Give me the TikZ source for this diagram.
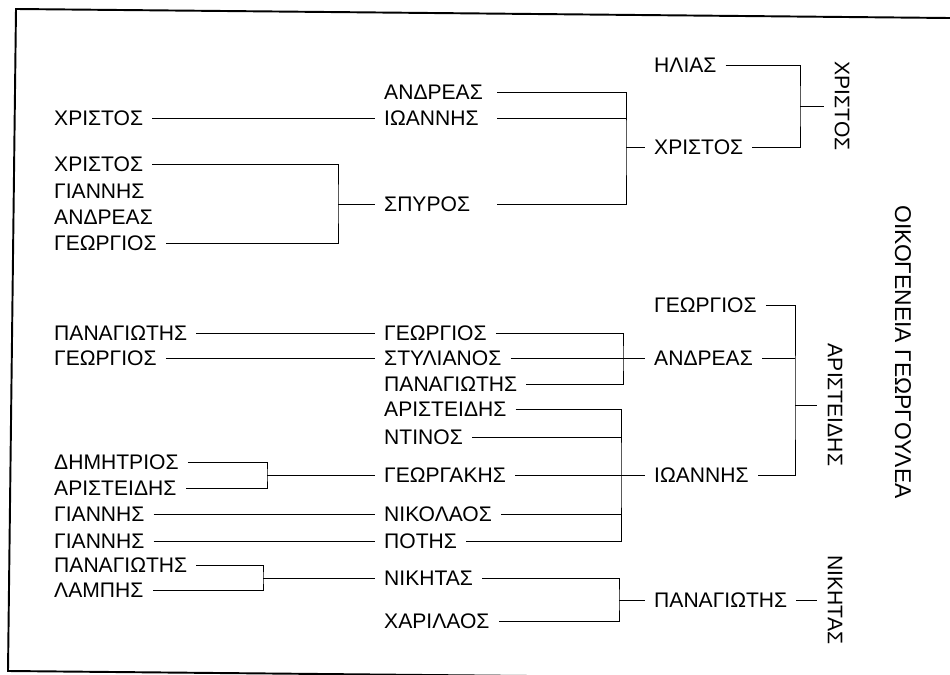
\documentclass[tikz,border=0pt]{standalone}
\usepackage{fontspec}
\setmainfont{Liberation Sans}
\usetikzlibrary{calc}

\begin{document}
\begin{tikzpicture}[x=0.02cm, y=-0.02cm, line width=0.5pt,
		every node/.style={font=\fontsize{12}{14}\selectfont, inner xsep=5pt, inner ysep=2pt},
		person/.style={anchor=west},
		branch/.style={rotate=-90, inner ysep=6pt},
		title/.style={rotate=-90, font=\fontsize{13}{15}\selectfont}]
		\useasboundingbox (0,0) rectangle (950,675);
		\clip (0,0) rectangle (950,675);
		\draw[line width=1.1pt] (990,18.4) -- (16,9) -- (8,671) -- (990,680.4);
		% first family
		\node[person] (l1) at (45,118) {ΧΡΙΣΤΟΣ};
		\node[person] (l2) at (45,164) {ΧΡΙΣΤΟΣ};
		\node[person] (l3) at (45,191) {ΓΙΑΝΝΗΣ};
		\node[person] (l4) at (45,217) {ΑΝΔΡΕΑΣ};
		\node[person] (l5) at (45,243) {ΓΕΩΡΓΙΟΣ};
		\node[person] (m1) at (375,92) {ΑΝΔΡΕΑΣ};
		\node[person] (m2) at (375,118) {ΙΩΑΝΝΗΣ};
		\node[person] (m3) at (375,204) {ΣΠΥΡΟΣ};
		\node[person] (r1) at (645,65) {ΗΛΙΑΣ};
		\node[person] (r2) at (645,147) {ΧΡΙΣΤΟΣ};
		\node[branch] (t1) at (842,106) {ΧΡΙΣΤΟΣ};
		\coordinate (j1) at (338,204);
		\coordinate (j2) at (626,147);
		\coordinate (j3) at (800,106);
		\coordinate (s2) at (497,0);
		\draw (l1.east) -- (m2.west);
		\draw (l2.east) -| (j1) |- (l5.east);
		\draw (j1) -- (m3.west);
		\draw (m1.east -| s2) -| (j2) |- (m3.east -| s2);
		\draw (m2.east -| s2) -- (m2.east -| j2);
		\draw (j2) -- (r2.west);
		\draw (r1.east) -| (j3) |- (r2.east);
		\draw (j3) -- (t1.south);
		% second family
		\node[person] (l6) at (45,333) {ΠΑΝΑΓΙΩΤΗΣ};
		\node[person] (l7) at (45,358) {ΓΕΩΡΓΙΟΣ};
		\node[person] (l8) at (45,462) {ΔΗΜΗΤΡΙΟΣ};
		\node[person] (l9) at (45,488) {ΑΡΙΣΤΕΙΔΗΣ};
		\node[person] (l10) at (45,514) {ΓΙΑΝΝΗΣ};
		\node[person] (l11) at (45,541) {ΓΙΑΝΝΗΣ};
		\node[person] (l12) at (45,565) {ΠΑΝΑΓΙΩΤΗΣ};
		\node[person] (l13) at (45,590) {ΛΑΜΠΗΣ};
		\node[person] (m4) at (375,333) {ΓΕΩΡΓΙΟΣ};
		\node[person] (m5) at (375,358) {ΣΤΥΛΙΑΝΟΣ};
		\node[person] (m6) at (375,384) {ΠΑΝΑΓΙΩΤΗΣ};
		\node[person] (m7) at (375,409) {ΑΡΙΣΤΕΙΔΗΣ};
		\node[person] (m8) at (375,437) {ΝΤΙΝΟΣ};
		\node[person] (m9) at (375,475) {ΓΕΩΡΓΑΚΗΣ};
		\node[person] (m10) at (375,514) {ΝΙΚΟΛΑΟΣ};
		\node[person] (m11) at (375,541) {ΠΟΤΗΣ};
		\node[person] (m12) at (375,578) {ΝΙΚΗΤΑΣ};
		\node[person] (m13) at (375,621) {ΧΑΡΙΛΑΟΣ};
		\node[person] (r3) at (645,305) {ΓΕΩΡΓΙΟΣ};
		\node[person] (r4) at (645,358) {ΑΝΔΡΕΑΣ};
		\node[person] (r5) at (645,475) {ΙΩΑΝΝΗΣ};
		\node[person] (r6) at (645,600) {ΠΑΝΑΓΙΩΤΗΣ};
		\node[branch] (t2) at (835,405) {ΑΡΙΣΤΕΙΔΗΣ};
		\node[branch] (t3) at (835,600) {ΝΙΚΗΤΑΣ};
		\node[title] (t0) at (903,352) {ΟΙΚΟΓΕΝΕΙΑ ΓΕΩΡΓΟΥΛΕΑ};
		\coordinate (j4) at (267,475);
		\coordinate (j5) at (263,578);
		\coordinate (j6) at (623,358);
		\coordinate (j7) at (621,475);
		\coordinate (j8) at (619,600);
		\coordinate (j9) at (795,405);
		\draw (l6.east) -- (m4.west);
		\draw (l7.east) -- (m5.west);
		\draw (l8.east) -| (j4) |- (l9.east);
		\draw (j4) -- (m9.west);
		\draw (l10.east) -- (m10.west);
		\draw (l11.east) -- (m11.west);
		\draw (l12.east) -| (j5) |- (l13.east);
		\draw (j5) -- (m12.west);
		\draw (m4.east) -| (j6) |- (m6.east);
		\draw (m5.east) -- (r4.west);
		\draw (m7.east) -| (j7) |- (m11.east);
		\draw (m8.east) -- (m8.east -| j7);
		\draw (m9.east) -- (r5.west);
		\draw (m10.east) -- (m10.east -| j7);
		\draw (m12.east) -| (j8) |- (m13.east);
		\draw (j8) -- (r6.west);
		\draw (r3.east) -| (j9) |- (r5.east);
		\draw (r4.east) -- (r4.east -| j9);
		\draw (j9) -- (t2.south);
		\draw (r6.east) -- (t3.south);
	\end{tikzpicture}
\end{document}
